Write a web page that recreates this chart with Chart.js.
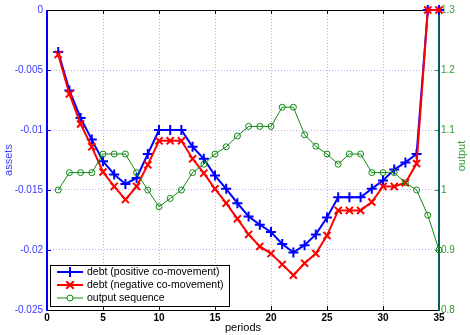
<!DOCTYPE html>
<html>
<head>
<meta charset="utf-8">
<script src="https://cdn.jsdelivr.net/npm/chart.js@4/dist/chart.umd.min.js"></script>
<style>
  html, body { margin: 0; padding: 0; background: #fff; }
  #wrap { width: 470px; height: 335px; }
</style>
</head>
<body>
<div id="wrap"><canvas id="debt" width="470" height="335"></canvas></div>
<script>
// periods 1..35
const periods = [1, 2, 3, 4, 5, 6, 7, 8, 9, 10, 11, 12, 13, 14, 15, 16, 17, 18,
                 19, 20, 21, 22, 23, 24, 25, 26, 27, 28, 29, 30, 31, 32, 33, 34, 35];

const debtPositive = [-0.0035, -0.0067, -0.0090, -0.0108, -0.0126, -0.0137, -0.0145, -0.0140, -0.0120,
                      -0.0100, -0.0100, -0.0100, -0.0114, -0.0124, -0.0138, -0.0149, -0.0161, -0.0172,
                      -0.0179, -0.0185, -0.0195, -0.0202, -0.0196, -0.0187, -0.0173, -0.0156, -0.0156,
                      -0.0156, -0.0149, -0.0142, -0.0133, -0.0127, -0.0120, 0, 0];

const debtNegative = [-0.0037, -0.0070, -0.0095, -0.0114, -0.0135, -0.0147, -0.0158, -0.0147, -0.0129,
                      -0.0109, -0.0109, -0.0109, -0.0124, -0.0136, -0.0149, -0.0161, -0.0174, -0.0187,
                      -0.0197, -0.0203, -0.0212, -0.0221, -0.0211, -0.0203, -0.0188, -0.0167, -0.0167,
                      -0.0167, -0.0160, -0.0147, -0.0147, -0.0144, -0.0128, 0, 0];

const output = [1.000, 1.029, 1.029, 1.029, 1.060, 1.060, 1.060, 1.029, 1.000, 0.972, 0.986, 1.000,
                1.029, 1.043, 1.060, 1.072, 1.090, 1.106, 1.106, 1.106, 1.138, 1.138, 1.092, 1.073,
                1.060, 1.043, 1.060, 1.060, 1.029, 1.029, 1.029, 1.012, 1.000, 0.958, 0.900];

const xTicks = [0, 5, 10, 15, 20, 25, 30, 35];
const assetTicks = [0, -0.005, -0.01, -0.015, -0.02, -0.025];
const outputTicks = [0.8, 0.9, 1, 1.1, 1.2, 1.3];

const labels = ['debt (positive co-movement)', 'debt (negative co-movement)', 'output sequence'];

const BLUE = '#0000ff';
const RED = '#ff0000';
const GREEN = '#108a10';
const LEFT_TXT = '#3a3aff';
const RIGHT_TXT = '#2f9a2f';
const RIGHT_AXIS = '#0d5a5a';

const toPoints = (ys) => periods.map((p, i) => ({ x: p, y: ys[i] }));

// frame, inward ticks, right title and legend drawn on top
const framePlugin = {
  id: 'frame',
  beforeDatasetsDraw(chart) {
    const { ctx, chartArea: a, scales } = chart;
    ctx.save();
    // inward tick marks
    ctx.lineWidth = 1;
    ctx.strokeStyle = '#000';
    xTicks.forEach(v => {
      const px = Math.round(scales.x.getPixelForValue(v)) + 0.5;
      ctx.beginPath();
      ctx.moveTo(px, a.bottom); ctx.lineTo(px, a.bottom - 4);
      ctx.moveTo(px, a.top); ctx.lineTo(px, a.top + 4);
      ctx.stroke();
    });
    ctx.strokeStyle = BLUE;
    assetTicks.forEach(v => {
      const py = Math.round(scales.y.getPixelForValue(v)) + 0.5;
      ctx.beginPath(); ctx.moveTo(a.left, py); ctx.lineTo(a.left + 4, py); ctx.stroke();
    });
    ctx.strokeStyle = RIGHT_TXT;
    outputTicks.forEach(v => {
      const py = Math.round(scales.y1.getPixelForValue(v)) + 0.5;
      ctx.beginPath(); ctx.moveTo(a.right, py); ctx.lineTo(a.right - 4, py); ctx.stroke();
    });

    // frame lines
    ctx.lineWidth = 1;
    ctx.strokeStyle = '#000';
    ctx.beginPath();
    ctx.moveTo(a.left, a.top + 0.5); ctx.lineTo(a.right, a.top + 0.5);
    ctx.moveTo(a.left, a.bottom + 0.5); ctx.lineTo(a.right, a.bottom + 0.5);
    ctx.stroke();
    ctx.lineWidth = 2;
    ctx.strokeStyle = BLUE;
    ctx.beginPath(); ctx.moveTo(a.left, a.top); ctx.lineTo(a.left, a.bottom + 1); ctx.stroke();
    ctx.strokeStyle = RIGHT_AXIS;
    ctx.beginPath(); ctx.moveTo(a.right, a.top); ctx.lineTo(a.right, a.bottom + 1); ctx.stroke();

    // right axis title, reads bottom to top
    ctx.fillStyle = RIGHT_TXT;
    ctx.font = '11px "Liberation Sans", Arial, sans-serif';
    ctx.textAlign = 'center';
    ctx.textBaseline = 'middle';
    ctx.translate(462, 156);
    ctx.rotate(-Math.PI / 2);
    ctx.fillText('output', 0, 0);
    ctx.restore();
  },
  afterDraw(chart) {
    const { ctx } = chart;
    // legend box
    ctx.save();
    const bx = 50, by = 265, bw = 179, bh = 41;
    ctx.fillStyle = '#fff';
    ctx.fillRect(bx, by, bw, bh);
    ctx.strokeStyle = '#000';
    ctx.lineWidth = 1;
    ctx.strokeRect(bx + 0.5, by + 0.5, bw, bh);
    ctx.font = '10.5px "Liberation Sans", Arial, sans-serif';
    ctx.textBaseline = 'middle';
    ctx.textAlign = 'left';
    const rows = [272, 285, 298];
    chart.data.datasets.forEach((ds, i) => {
      const yy = rows[i];
      ctx.strokeStyle = ds.borderColor;
      ctx.lineWidth = ds.borderWidth;
      ctx.beginPath(); ctx.moveTo(57, yy); ctx.lineTo(83, yy); ctx.stroke();
      const r = ds.pointRadius;
      ctx.beginPath();
      if (ds.pointStyle === 'cross') {
        ctx.moveTo(70 - r, yy); ctx.lineTo(70 + r, yy);
        ctx.moveTo(70, yy - r); ctx.lineTo(70, yy + r);
      } else if (ds.pointStyle === 'crossRot') {
        const d = r * 0.75;
        ctx.moveTo(70 - d, yy - d); ctx.lineTo(70 + d, yy + d);
        ctx.moveTo(70 - d, yy + d); ctx.lineTo(70 + d, yy - d);
      } else {
        ctx.fillStyle = '#fff';
        ctx.arc(70, yy, r, 0, Math.PI * 2);
        ctx.fill();
      }
      ctx.stroke();
      ctx.fillStyle = '#000';
      ctx.fillText(ds.label, 87, yy + 0.5);
    });
    ctx.restore();
  }
};

new Chart(document.getElementById('debt'), {
  type: 'line',
  data: {
    datasets: [
      {
        label: labels[0], data: toPoints(debtPositive), yAxisID: 'y',
        borderColor: BLUE, backgroundColor: BLUE, borderWidth: 2,
        pointStyle: 'cross', pointRadius: 5, pointBorderWidth: 2, pointBorderColor: BLUE,
        tension: 0, order: 2, clip: false
      },
      {
        label: labels[1], data: toPoints(debtNegative), yAxisID: 'y',
        borderColor: RED, backgroundColor: RED, borderWidth: 2,
        pointStyle: 'crossRot', pointRadius: 5, pointBorderWidth: 2, pointBorderColor: RED,
        tension: 0, order: 1, clip: false
      },
      {
        label: labels[2], data: toPoints(output), yAxisID: 'y1',
        borderColor: GREEN, backgroundColor: 'rgba(0,0,0,0)', borderWidth: 1,
        pointStyle: 'circle', pointRadius: 3, pointBorderWidth: 1, pointBorderColor: GREEN,
        tension: 0, order: 0, clip: false
      }
    ]
  },
  options: {
    responsive: false,
    animation: false,
    layout: { padding: { top: 10, left: 0, right: 0, bottom: 0 } },
    plugins: { legend: { display: false }, tooltip: { enabled: false } },
    scales: {
      x: {
        type: 'linear', min: 0, max: 35,
        afterBuildTicks: (s) => { s.ticks = xTicks.map(v => ({ value: v })); },
        afterFit: (s) => { s.height = 25; },
        ticks: { color: '#000', font: { size: 10, weight: 'bold', family: '"Liberation Sans", Arial' }, padding: 2, maxRotation: 0 },
        grid: { color: '#b4b4b4', drawTicks: false, lineWidth: 1 },
        border: { display: false, dash: [1, 2] },
        title: { display: true, text: 'periods', color: '#000', padding: { top: 0, bottom: 0 },
                 font: { size: 11, family: '"Liberation Sans", Arial' } }
      },
      y: {
        position: 'left', min: -0.025, max: 0,
        afterBuildTicks: (s) => { s.ticks = assetTicks.map(v => ({ value: v })); },
        afterFit: (s) => { s.width = 47; },
        ticks: { color: LEFT_TXT, font: { size: 10, family: '"Liberation Sans", Arial' }, padding: 4,
                 callback: (v) => String(Math.round(v * 1000) / 1000) },
        grid: { color: '#b0b0ff', drawTicks: false, lineWidth: 1 },
        border: { display: false, dash: [1, 2] },
        title: { display: true, text: 'assets', color: LEFT_TXT, padding: { top: 2, bottom: 0 },
                 font: { size: 11, family: '"Liberation Sans", Arial' } }
      },
      y1: {
        position: 'right', min: 0.8, max: 1.3,
        afterBuildTicks: (s) => { s.ticks = outputTicks.map(v => ({ value: v })); },
        afterFit: (s) => { s.width = 31; },
        ticks: { color: RIGHT_TXT, font: { size: 10, family: '"Liberation Sans", Arial' }, padding: 2,
                 callback: (v) => String(Math.round(v * 10) / 10) },
        grid: { display: false, drawTicks: false },
        border: { display: false }
      }
    }
  },
  plugins: [framePlugin]
});
</script>
</body>
</html>
